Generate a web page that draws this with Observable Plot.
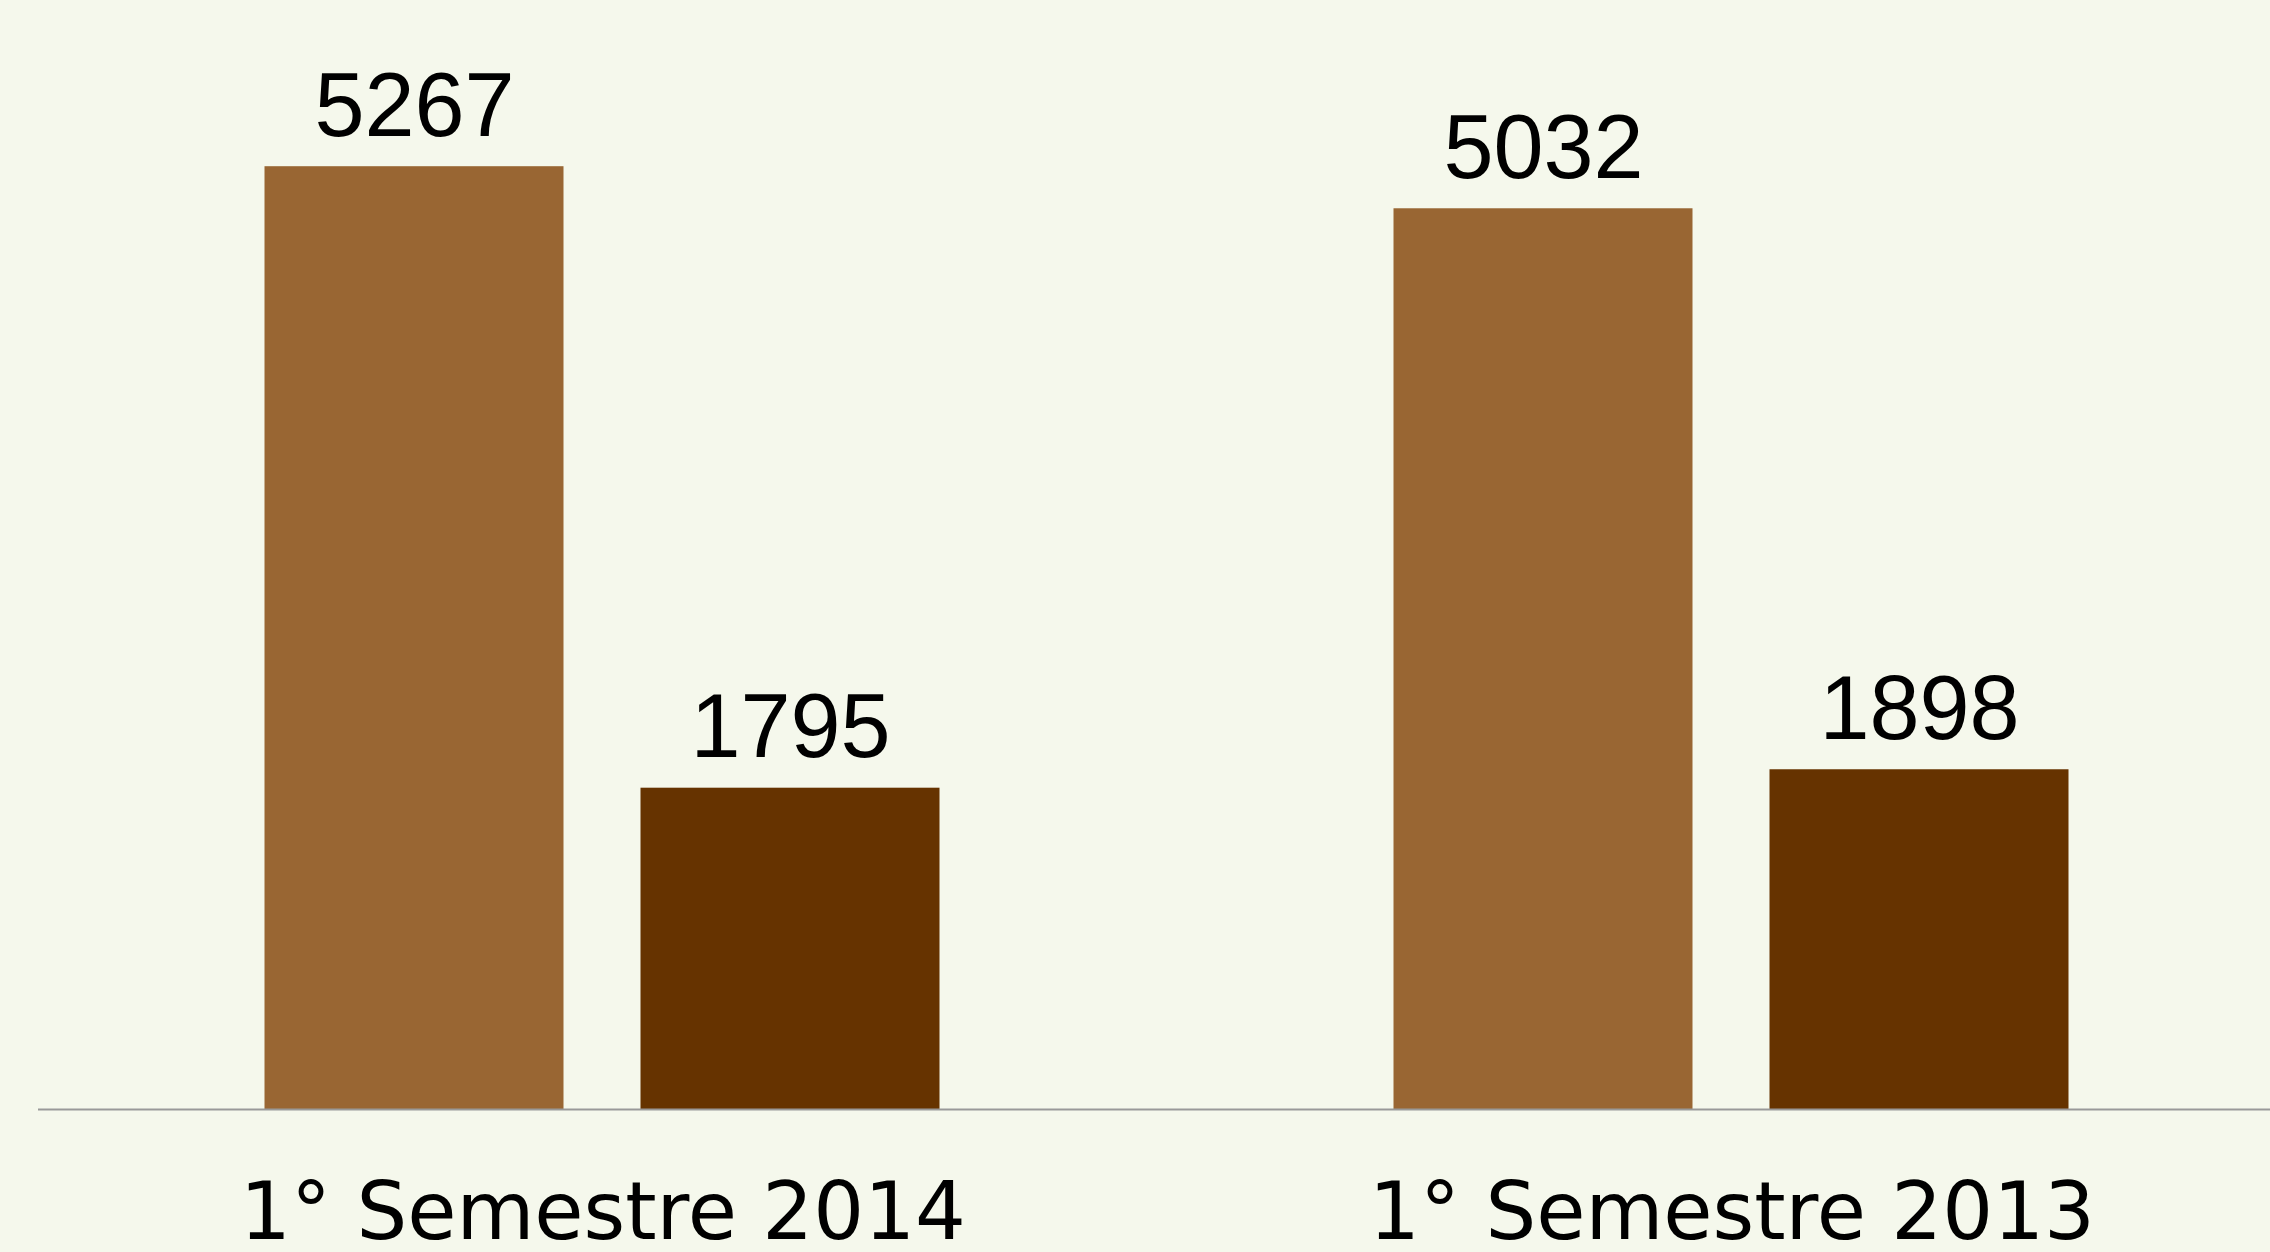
<!DOCTYPE html>
<html>
<head>
<meta charset="utf-8">
<script src="https://cdn.jsdelivr.net/npm/d3@7"></script>
<script src="https://cdn.jsdelivr.net/npm/@observablehq/plot@0.6"></script>
<style>
  html, body { margin: 0; padding: 0; background: #F5F8EC; overflow: hidden; }
  #chart svg { display: block; }
</style>
</head>
<body>
<div id="chart"></div>
<script>
const semesters = ["1° Semestre 2014", "1° Semestre 2013"];
const series = ["A", "B"];
const values2014 = [5267, 1795];
const values2013 = [5032, 1898];
const colors = ["#996633", "#663300"];

const valuesBySemester = [values2014, values2013];
const data = [];
semesters.forEach((s, i) => {
  series.forEach((k, j) => data.push({semester: s, series: k, value: valuesBySemester[i][j]}));
});

const chart = Plot.plot({
  width: 2270,
  height: 1252,
  marginLeft: 37.5,
  marginRight: -25.5,
  marginTop: 35,
  marginBottom: 143,
  style: {background: "#F5F8EC", fontFamily: "'DejaVu Sans', sans-serif"},
  fx: {domain: semesters, padding: 0, label: null, axis: null},
  x: {domain: series, paddingInner: 0.204, paddingOuter: 0.5995, axis: null},
  y: {domain: [0, 6000], axis: null},
  color: {domain: series, range: colors},
  marks: [
    Plot.barY(data, {fx: "semester", x: "series", y: "value", fill: "series"}),
    Plot.ruleY([0], {stroke: "#999999", strokeWidth: 2}),
    Plot.text(data, {
      fx: "semester", x: "series", y: "value", text: d => String(d.value),
      dy: -31, lineAnchor: "bottom", fontSize: 90, fill: "#000",
      fontFamily: "'Liberation Sans', Arial, sans-serif"
    }),
    Plot.axisFx({
      anchor: "bottom", tickSize: 0, tickPadding: 73, fontSize: 80,
      fill: "#000", label: null, fontFamily: "'DejaVu Sans', sans-serif"
    })
  ]
});
document.getElementById("chart").appendChild(chart);
</script>
</body>
</html>
